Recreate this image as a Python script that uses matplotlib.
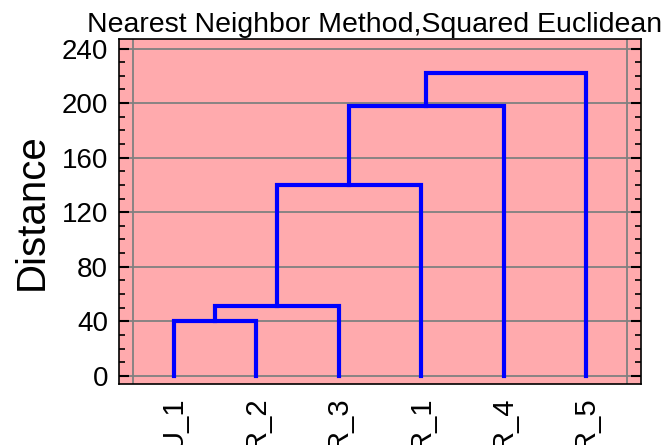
import matplotlib
matplotlib.use("Agg")
import matplotlib.pyplot as plt
from matplotlib.ticker import MultipleLocator

plt.rcParams['font.family'] = ['Liberation Sans', 'DejaVu Sans']

labels = ["U_1", "R_2", "R_3", "R_1", "R_4", "R_5"]
# merges: (left member, right member, height); members are leaf labels or cluster ids "C0", "C1", ...
merges = [("U_1", "R_2", 40.0),
          ("C0", "R_3", 51.0),
          ("C1", "R_1", 140.0),
          ("C2", "R_4", 198.0),
          ("C3", "R_5", 222.0)]
yticks = [0, 40, 80, 120, 160, 200, 240]

fig = plt.figure(figsize=(6.69, 4.45), dpi=100)
ax = fig.add_axes([119/669, 1 - 384/445, (641-119)/669, (384-39)/445])
ax.set_facecolor('#FFAAAD')

pos = {lab: (i + 1, 0.0) for i, lab in enumerate(labels)}
for k, (a, b, h) in enumerate(merges):
    xa, ya = pos[a]
    xb, yb = pos[b]
    ax.plot([xa, xa, xb, xb], [ya, h, h, yb], color='#0000FF', lw=3,
            solid_joinstyle='miter', zorder=3)
    pos["C%d" % k] = ((xa + xb) / 2, h)

ax.set_xlim(0.33, 6.67)
ax.set_ylim(-6, 247)
ax.set_yticks(yticks)
ax.yaxis.set_minor_locator(MultipleLocator(10))
ax.set_xticks(range(1, len(labels) + 1))
ax.set_xticklabels(labels, rotation=90, fontsize=21)
ax.tick_params(axis='x', length=0, pad=9)
ax.tick_params(axis='y', which='major', direction='in', length=7, width=1.5,
               left=True, right=True, labelsize=20, pad=8)
ax.tick_params(axis='y', which='minor', direction='in', length=4, width=1.2,
               left=True, right=True)
for yv in yticks:
    ax.axhline(yv, color='#808080', lw=1.3, zorder=1)
for xv in (0.5, 6.5):
    ax.axvline(xv, color='#808080', lw=1.3, zorder=1)
for s in ax.spines.values():
    s.set_linewidth(1.2)

ax.set_ylabel("Distance", fontsize=29, labelpad=8)
ax.set_title("Nearest Neighbor Method,Squared Euclidean", fontsize=20.5, pad=5, x=0.49)

fig.savefig("out.png", dpi=100)
